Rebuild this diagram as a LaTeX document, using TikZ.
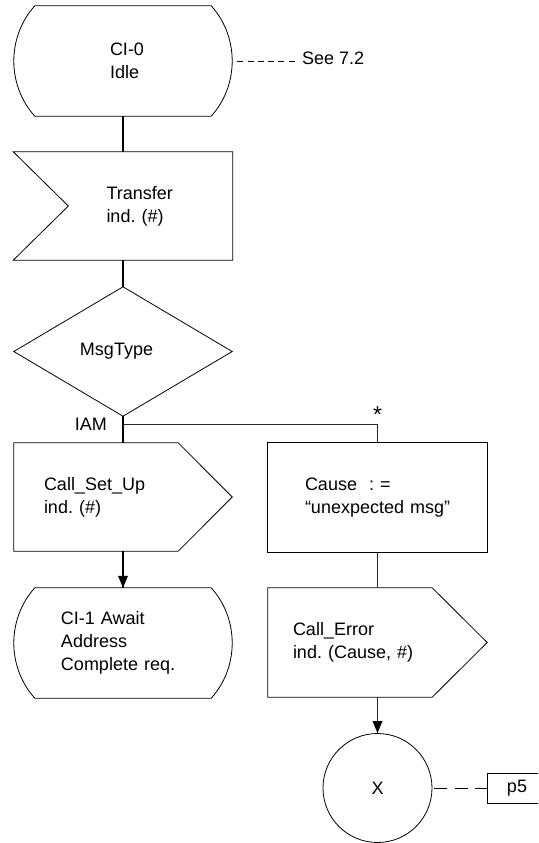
\documentclass[tikz,border=0pt]{standalone}
\usepackage{fontspec}
\setmainfont{Liberation Sans}
\usetikzlibrary{calc}
\frenchspacing

\begin{document}
\begin{tikzpicture}[x=1pt,y=-1pt]
\tikzstyle{every node}+=[inner sep=0pt, font=\fontsize{18}{23}\selectfont]
\tikzstyle{sym}=[minimum height=108pt, text width=218pt, align=left]
\tikzstyle{outline}=[black, line width=0.8pt]
\tikzstyle{trunk}=[black, line width=1.8pt]
\tikzstyle{side}=[black!85, line width=1pt]
\tikzset{textinset/.style={execute at begin node={\leftskip=#1pt\relax}}}
\clip (0,0) rectangle (538,843);
\node[sym, textinset=96, minimum height=110pt] (idle) at (123,61) {CI-0\\Idle};
\node[sym, textinset=93, text width=219pt] (transfer) at (123,206) {Transfer\\ind. (\#)};
\node[sym, textinset=66, minimum height=129pt] (msgtype) at (123,351.5) {MsgType};
\node[sym, textinset=30] (setup) at (123,497) {Call\_Set\_Up\\ind. (\#)};
\node[sym, textinset=47, minimum height=110pt] (await) at (123,643) {CI-1 Await\\Address\\Complete req.};
\node[sym, textinset=37, text width=219pt, minimum height=109pt] (cause) at (377.5,497.5) {Cause~ : =\\“unexpected msg”};
\node[sym, textinset=25, text width=219pt, minimum height=109pt] (callerr) at (377.5,642.5) {Call\_Error\\ind. (Cause, \#)};
\node[circle, draw, outline, minimum size=109pt] (xconn) at (377.5,788) {X};
\node[draw, outline, minimum width=60pt, minimum height=30pt] (p5) at (517,788) {p5};
\node[anchor=base west] (see) at (302,65) {See 7.2};
\node[anchor=base, font=\fontsize{23}{23}\selectfont] (star) at (377.5,422) {*};
\node[anchor=base east] (iam) at (107,430) {IAM};
\coordinate (br) at (123,424);
\foreach \s in {idle,await}
  \draw[outline] ($(\s.north west)+(21,0)$) -- ($(\s.north east)+(-21,0)$)
    .. controls ($(\s.north east)+(7,31)$) and ($(\s.south east)+(7,-31)$) .. ($(\s.south east)+(-21,0)$)
    -- ($(\s.south west)+(21,0)$)
    .. controls ($(\s.south west)+(-7,-31)$) and ($(\s.north west)+(-7,31)$) .. cycle;
\draw[outline] (transfer.north west) -- (transfer.north east) -- (transfer.south east) -- (transfer.south west) -- ($(transfer.west)+(55,0)$) -- cycle;
\draw[outline] (msgtype.north) -- (msgtype.east) -- (msgtype.south) -- (msgtype.west) -- cycle;
\draw[outline] (setup.north west) -- ($(setup.north east)+(-54,0)$) -- (setup.east) -- ($(setup.south east)+(-54,0)$) -- (setup.south west) -- cycle;
\draw[outline] (cause.north west) rectangle (cause.south east);
\draw[outline] (callerr.north west) -- ($(callerr.north east)+(-55,0)$) -- (callerr.east) -- ($(callerr.south east)+(-55,0)$) -- (callerr.south west) -- cycle;
\draw[trunk] (idle) -- (transfer);
\draw[trunk] (transfer) -- (msgtype);
\draw[trunk] (msgtype) -- (setup);
\draw[trunk] (setup) -- (await);
\fill (await.north) -- ++(-5,-12) -- ++(10,0) -- cycle;
\draw[side] (br) -| (cause.north);
\draw[side] (cause) -- (callerr);
\draw[side, line width=1.3pt] (callerr) -- (xconn);
\fill (xconn.north) -- ++(-5,-12) -- ++(10,0) -- cycle;
\draw[line width=0.9pt, dash pattern=on 6pt off 4.3pt, shorten <=5pt, shorten >=4pt] (idle.east) -- (idle.east -| see.west);
\draw[line width=1pt, dash pattern=on 13pt off 7.5pt, shorten <=2pt] (xconn) -- (p5);
\end{tikzpicture}
\end{document}
